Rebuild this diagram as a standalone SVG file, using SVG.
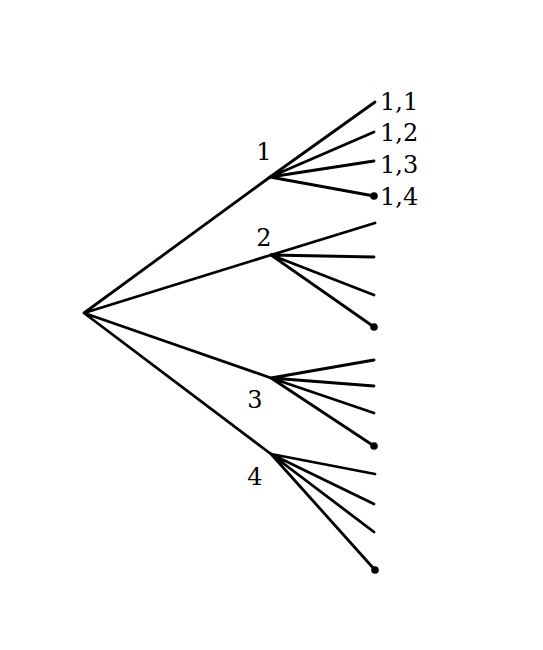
<svg xmlns="http://www.w3.org/2000/svg" width="543" height="650" viewBox="0 0 543 650">
<style>
.e{stroke:#000;stroke-width:2.8;fill:none;stroke-linecap:round}
.d{fill:#000}
text{font-family:"DejaVu Serif","Liberation Serif",serif;font-size:24px;fill:#000}
.m{text-anchor:middle}
</style>
<rect width="543" height="650" fill="#fff"/>
<g id="connectors">
<path class="e" d="M84 313L270 177M84 313L271 255M84 313L271 378M84 313L271 454"/>
<path class="e" d="M270 177L375 102M270 177L374 132M270 177L374 161M270 177L374 196"/>
<path class="e" d="M271 255L375 223M271 255L374 257M271 255L374 295M271 255L374 327"/>
<path class="e" d="M271 378L374 360M271 378L374 386M271 378L374 413M271 378L374 446"/>
<path class="e" d="M271 454L375 474M271 454L374 504M271 454L374 532M271 454L375 570"/>
</g>
<g id="n1"><text class="m" x="264" y="160">1</text></g>
<g id="n2"><text class="m" x="264" y="246">2</text></g>
<g id="n3"><text class="m" x="255" y="408">3</text></g>
<g id="n4"><text class="m" x="255" y="485">4</text></g>
<g id="l11"><text x="380" y="110">1,1</text></g>
<g id="l12"><text x="380" y="141">1,2</text></g>
<g id="l13"><text x="380" y="173">1,3</text></g>
<g id="l14"><circle class="d" cx="374" cy="196" r="3.8"/><text x="380" y="205">1,4</text></g>
<g id="l24"><circle class="d" cx="374" cy="327" r="3.8"/></g>
<g id="l34"><circle class="d" cx="374" cy="446" r="3.8"/></g>
<g id="l44"><circle class="d" cx="375" cy="570" r="3.8"/></g>
</svg>
